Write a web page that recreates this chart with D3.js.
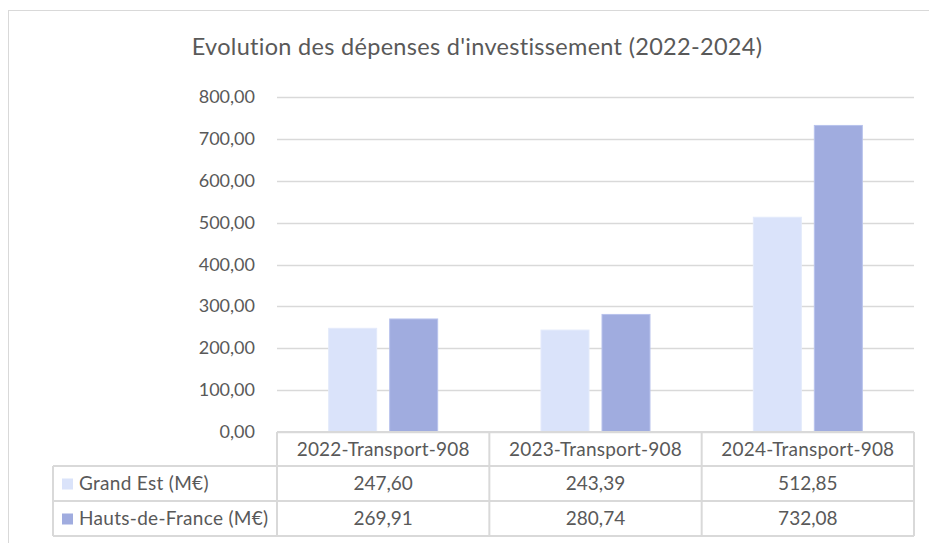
<!DOCTYPE html>
<html>
<head>
<meta charset="utf-8">
<script src="https://cdn.jsdelivr.net/npm/d3@7"></script>
<style>
  body { margin: 0; background: #fff; }
  svg { display: block; font-family: Lato, "Open Sans", sans-serif; }
</style>
</head>
<body>
<svg id="chart"></svg>
<script>
// data
const categories = ["2022-Transport-908", "2023-Transport-908", "2024-Transport-908"];
const seriesNames = ["Grand Est (M€)", "Hauts-de-France (M€)"];
const grandEst = [247.60, 243.39, 512.85];
const hautsDeFrance = [269.91, 280.74, 732.08];
const yTicks = [0, 100, 200, 300, 400, 500, 600, 700, 800];

const width = 929, height = 543;
const colors = ["#dae3fa", "#a0acdf"];
const textColor = "#595959";
const gridColor = "#d9d9d9";
const frFormat = d3.formatLocale({ decimal: ",", thousands: " ", grouping: [3], currency: ["", " €"] }).format(",.2f");

const svg = d3.select("#chart").attr("width", width).attr("height", height);

// chart frame (left and top edges visible)
svg.append("rect")
  .attr("x", 8.5).attr("y", 10.5)
  .attr("width", width + 10).attr("height", height + 10)
  .attr("fill", "none").attr("stroke", gridColor);

// title
svg.append("text")
  .attr("x", 477).attr("y", 55)
  .attr("text-anchor", "middle")
  .attr("fill", textColor)
  .attr("font-size", 23.5)
  .attr("letter-spacing", 0.3)
  .text("Evolution des dépenses d'investissement (2022-2024)");

const plot = { left: 277, right: 914, top: 97, bottom: 432 };

const x = d3.scaleBand().domain(categories).range([plot.left, plot.right]);
const y = d3.scaleLinear().domain([0, 800]).range([plot.bottom, plot.top]);

// gridlines
svg.append("g")
  .selectAll("line")
  .data(yTicks)
  .join("line")
  .attr("x1", plot.left).attr("x2", plot.right)
  .attr("y1", d => Math.round(y(d)) + 0.5).attr("y2", d => Math.round(y(d)) + 0.5)
  .attr("stroke", gridColor).attr("stroke-width", 1.5);

// y axis labels
svg.append("g")
  .selectAll("text")
  .data(yTicks)
  .join("text")
  .attr("x", 255).attr("y", d => y(d) + 6)
  .attr("text-anchor", "end")
  .attr("fill", textColor)
  .attr("font-size", 18)
  .text(d => frFormat(d));

// bars
const barW = 48, barGap = 13;
const series = [grandEst, hautsDeFrance];
series.forEach((vals, si) => {
  svg.append("g")
    .selectAll("rect")
    .data(vals)
    .join("rect")
    .attr("x", (d, i) => x(categories[i]) + x.bandwidth() / 2 + (si === 0 ? -barGap / 2 - barW : barGap / 2))
    .attr("y", d => y(d))
    .attr("width", barW)
    .attr("height", d => y(0) - y(d))
    .attr("fill", colors[si])
    .attr("stroke", si === 0 ? "#e3eafb" : "#b8c2ec")
    .attr("stroke-width", 1);
});

// data table
const rowY = [432, 466, 501, 536];
const tableLeft = 53;
const tbl = svg.append("g").attr("stroke", gridColor).attr("stroke-width", 2).attr("fill", "none");
// horizontal lines
tbl.append("line").attr("x1", plot.left).attr("x2", plot.right).attr("y1", rowY[0]).attr("y2", rowY[0]);
rowY.slice(1).forEach(ry => {
  tbl.append("line").attr("x1", tableLeft).attr("x2", plot.right).attr("y1", ry).attr("y2", ry);
});
// vertical lines
tbl.append("line").attr("x1", tableLeft).attr("x2", tableLeft).attr("y1", rowY[1]).attr("y2", rowY[3]);
categories.forEach(c => {
  tbl.append("line").attr("x1", x(c)).attr("x2", x(c)).attr("y1", rowY[0]).attr("y2", rowY[3]);
});
tbl.append("line").attr("x1", plot.right).attr("x2", plot.right).attr("y1", rowY[0]).attr("y2", rowY[3]);

// header row
svg.append("g")
  .selectAll("text")
  .data(categories)
  .join("text")
  .attr("x", d => x(d) + x.bandwidth() / 2)
  .attr("y", (rowY[0] + rowY[1]) / 2 + 6.5)
  .attr("text-anchor", "middle")
  .attr("fill", textColor)
  .attr("font-size", 19)
  .attr("letter-spacing", 0.2)
  .text(d => d);

// series rows
series.forEach((vals, si) => {
  const cy = (rowY[si + 1] + rowY[si + 2]) / 2;
  svg.append("rect")
    .attr("x", 62).attr("y", cy - 5)
    .attr("width", 11).attr("height", 11)
    .attr("fill", colors[si]);
  svg.append("text")
    .attr("x", 79).attr("y", cy + 6.5)
    .attr("fill", textColor)
    .attr("font-size", 19)
    .attr("letter-spacing", 0.3)
    .text(seriesNames[si]);
  svg.append("g")
    .selectAll("text")
    .data(vals)
    .join("text")
    .attr("x", (d, i) => x(categories[i]) + x.bandwidth() / 2)
    .attr("y", cy + 6.5)
    .attr("text-anchor", "middle")
    .attr("fill", textColor)
    .attr("font-size", 19)
    .text(d => frFormat(d));
});
</script>
</body>
</html>
